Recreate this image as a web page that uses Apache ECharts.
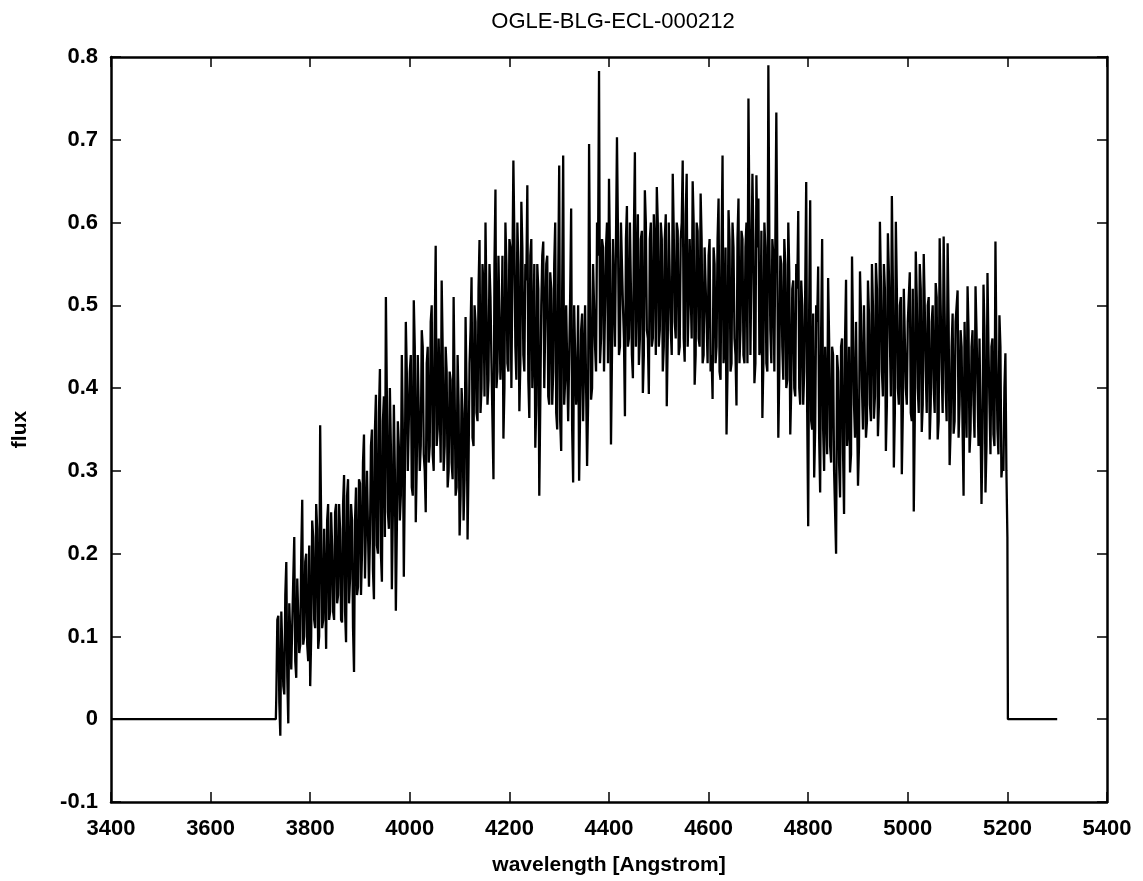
<!DOCTYPE html>
<html>
<head>
<meta charset="utf-8">
<title>OGLE-BLG-ECL-000212</title>
<script src="https://cdn.jsdelivr.net/npm/echarts@6/dist/echarts.min.js"></script>
<style>
  html, body { margin: 0; padding: 0; background: #fff; }
  #main { width: 1143px; height: 881px; }
</style>
</head>
<body>
<div id="main"></div>
<script>
// spectrum: flux at 3732, 3736, ... 5200 A,
// fluxMid at the points in between (3734, 3738, ... 5198 A)
const waveStart = 3732;
const waveStep = 4;
const flux = [
  // 3732 - 3828
  0.03, 0.125, -0.02, 0.13, 0.03, 0.19, -0.005, 0.14, 0.06, 0.22, 0.05, 0.17, 0.09,
  0.265, 0.1, 0.2, 0.07, 0.04, 0.24, 0.12, 0.26, 0.085, 0.355, 0.11, 0.23,
  // 3832 - 3928
  0.085, 0.26, 0.13, 0.21, 0.12, 0.26, 0.15, 0.23, 0.117, 0.295, 0.093, 0.29, 0.17,
  0.24, 0.057, 0.28, 0.16, 0.285, 0.2, 0.344, 0.169, 0.3, 0.22, 0.35, 0.145,
  // 3932 - 4028
  0.392, 0.2, 0.423, 0.166, 0.39, 0.51, 0.25, 0.4, 0.157, 0.38, 0.131, 0.36, 0.24,
  0.44, 0.172, 0.48, 0.3, 0.42, 0.28, 0.506, 0.238, 0.44, 0.3, 0.47, 0.32,
  // 4032 - 4128
  0.25, 0.45, 0.33, 0.5, 0.3, 0.572, 0.35, 0.46, 0.53, 0.3, 0.45, 0.28, 0.42,
  0.31, 0.51, 0.27, 0.44, 0.222, 0.4, 0.24, 0.486, 0.217, 0.43, 0.534, 0.33,
  // 4132 - 4228
  0.48, 0.36, 0.579, 0.4, 0.52, 0.6, 0.38, 0.55, 0.43, 0.29, 0.64, 0.42, 0.56,
  0.45, 0.339, 0.6, 0.43, 0.58, 0.4, 0.675, 0.45, 0.6, 0.372, 0.625, 0.44,
  // 4232 - 4328
  0.55, 0.645, 0.364, 0.58, 0.45, 0.328, 0.55, 0.27, 0.5, 0.577, 0.4, 0.56, 0.38,
  0.52, 0.42, 0.6, 0.35, 0.669, 0.324, 0.681, 0.41, 0.5, 0.36, 0.617, 0.286,
  // 4332 - 4428
  0.5, 0.4, 0.288, 0.47, 0.36, 0.5, 0.306, 0.695, 0.386, 0.55, 0.45, 0.6, 0.783,
  0.46, 0.57, 0.42, 0.6, 0.653, 0.332, 0.58, 0.45, 0.703, 0.44, 0.6, 0.5,
  // 4432 - 4528
  0.366, 0.62, 0.46, 0.6, 0.412, 0.685, 0.45, 0.428, 0.58, 0.394, 0.639, 0.47, 0.393,
  0.6, 0.46, 0.57, 0.643, 0.45, 0.6, 0.42, 0.58, 0.378, 0.6, 0.47, 0.659,
  // 4532 - 4628
  0.48, 0.6, 0.44, 0.58, 0.675, 0.432, 0.659, 0.5, 0.58, 0.65, 0.404, 0.6, 0.46,
  0.635, 0.43, 0.57, 0.48, 0.56, 0.42, 0.387, 0.55, 0.45, 0.629, 0.41, 0.681,
  // 4632 - 4728
  0.45, 0.344, 0.615, 0.42, 0.6, 0.46, 0.379, 0.629, 0.47, 0.58, 0.43, 0.6, 0.75,
  0.44, 0.659, 0.406, 0.657, 0.629, 0.45, 0.364, 0.6, 0.43, 0.79, 0.47, 0.58,
  // 4732 - 4828
  0.42, 0.733, 0.34, 0.56, 0.45, 0.58, 0.4, 0.6, 0.344, 0.52, 0.4, 0.55, 0.614,
  0.38, 0.5, 0.42, 0.649, 0.233, 0.627, 0.35, 0.292, 0.5, 0.547, 0.274, 0.58,
  // 4832 - 4928
  0.3, 0.45, 0.533, 0.33, 0.45, 0.3, 0.2, 0.42, 0.268, 0.46, 0.248, 0.531, 0.35,
  0.298, 0.559, 0.38, 0.48, 0.282, 0.541, 0.4, 0.5, 0.34, 0.53, 0.38, 0.55,
  // 4932 - 5028
  0.363, 0.551, 0.342, 0.601, 0.42, 0.55, 0.324, 0.587, 0.46, 0.632, 0.304, 0.601, 0.4,
  0.5, 0.296, 0.52, 0.4, 0.48, 0.54, 0.36, 0.251, 0.565, 0.4, 0.55, 0.347,
  // 5032 - 5128
  0.562, 0.42, 0.5, 0.338, 0.48, 0.4, 0.527, 0.338, 0.581, 0.42, 0.583, 0.4, 0.575,
  0.307, 0.45, 0.345, 0.48, 0.518, 0.38, 0.45, 0.27, 0.48, 0.523, 0.322, 0.45,
  // 5132 - 5200
  0.38, 0.523, 0.4, 0.46, 0.26, 0.525, 0.274, 0.539, 0.38, 0.45, 0.344, 0.577, 0.35,
  0.488, 0.292, 0.3, 0.442, 0.22
];
const fluxMid = [
  // 3734 - 3830
  0.12, 0.02, 0.13, 0.04, 0.15, 0.05, 0.14, 0.06, 0.17, 0.07, 0.17, 0.08, 0.2,
  0.09, 0.19, 0.09, 0.21, 0.1, 0.22, 0.11, 0.23, 0.1, 0.24, 0.12, 0.23,
  // 3834 - 3930
  0.24, 0.12, 0.25, 0.13, 0.25, 0.14, 0.26, 0.12, 0.26, 0.13, 0.27, 0.14, 0.26,
  0.11, 0.24, 0.15, 0.29, 0.15, 0.31, 0.17, 0.3, 0.16, 0.33, 0.18, 0.35,
  // 3934 - 4030
  0.21, 0.37, 0.2, 0.36, 0.22, 0.39, 0.23, 0.33, 0.25, 0.3, 0.23, 0.33, 0.27,
  0.35, 0.29, 0.42, 0.3, 0.44, 0.27, 0.45, 0.31, 0.44, 0.33, 0.45, 0.3,
  // 4034 - 4130
  0.43, 0.31, 0.48, 0.32, 0.47, 0.33, 0.46, 0.31, 0.45, 0.33, 0.42, 0.3, 0.41,
  0.29, 0.4, 0.28, 0.38, 0.27, 0.37, 0.29, 0.4, 0.31, 0.47, 0.34, 0.5,
  // 4134 - 4230
  0.37, 0.52, 0.37, 0.55, 0.39, 0.5, 0.41, 0.51, 0.43, 0.55, 0.4, 0.56, 0.41,
  0.56, 0.4, 0.55, 0.42, 0.57, 0.4, 0.58, 0.41, 0.55, 0.43, 0.57, 0.42,
  // 4234 - 4330
  0.53, 0.41, 0.56, 0.4, 0.55, 0.38, 0.52, 0.38, 0.56, 0.4, 0.55, 0.39, 0.54,
  0.38, 0.55, 0.37, 0.53, 0.36, 0.52, 0.38, 0.5, 0.36, 0.51, 0.35, 0.5,
  // 4334 - 4430
  0.38, 0.5, 0.37, 0.49, 0.36, 0.5, 0.38, 0.52, 0.4, 0.55, 0.42, 0.56, 0.43,
  0.58, 0.42, 0.57, 0.43, 0.56, 0.44, 0.58, 0.45, 0.59, 0.45, 0.6, 0.46,
  // 4434 - 4530
  0.58, 0.45, 0.6, 0.44, 0.59, 0.45, 0.61, 0.46, 0.59, 0.44, 0.6, 0.46, 0.58,
  0.45, 0.61, 0.44, 0.6, 0.47, 0.58, 0.45, 0.61, 0.46, 0.6, 0.44, 0.59,
  // 4534 - 4630
  0.46, 0.59, 0.45, 0.6, 0.46, 0.61, 0.45, 0.58, 0.46, 0.6, 0.44, 0.59, 0.45,
  0.58, 0.44, 0.57, 0.43, 0.58, 0.44, 0.57, 0.43, 0.58, 0.42, 0.57, 0.43,
  // 4634 - 4730
  0.57, 0.42, 0.58, 0.43, 0.57, 0.44, 0.58, 0.43, 0.59, 0.44, 0.57, 0.43, 0.6,
  0.44, 0.58, 0.43, 0.57, 0.44, 0.59, 0.43, 0.57, 0.42, 0.58, 0.43, 0.56,
  // 4734 - 4830
  0.42, 0.56, 0.42, 0.55, 0.41, 0.55, 0.41, 0.54, 0.4, 0.53, 0.39, 0.52, 0.4,
  0.53, 0.38, 0.52, 0.37, 0.5, 0.36, 0.49, 0.35, 0.48, 0.34, 0.47, 0.35,
  // 4834 - 4930
  0.45, 0.32, 0.46, 0.31, 0.44, 0.3, 0.44, 0.31, 0.45, 0.32, 0.46, 0.33, 0.45,
  0.32, 0.47, 0.34, 0.48, 0.33, 0.49, 0.35, 0.5, 0.36, 0.49, 0.36, 0.5,
  // 4934 - 5030
  0.39, 0.52, 0.38, 0.53, 0.39, 0.52, 0.38, 0.54, 0.39, 0.53, 0.37, 0.52, 0.38,
  0.51, 0.37, 0.52, 0.38, 0.51, 0.37, 0.52, 0.36, 0.51, 0.37, 0.52, 0.38,
  // 5034 - 5130
  0.5, 0.37, 0.51, 0.38, 0.5, 0.37, 0.51, 0.36, 0.5, 0.37, 0.49, 0.36, 0.48,
  0.35, 0.49, 0.36, 0.48, 0.34, 0.47, 0.35, 0.48, 0.34, 0.47, 0.35, 0.47,
  // 5134 - 5198
  0.34, 0.47, 0.33, 0.46, 0.34, 0.47, 0.33, 0.45, 0.32, 0.46, 0.33, 0.44, 0.32,
  0.45, 0.31, 0.4, 0.3
];
// zero-padded ends of the spectrum
const headWave = [3400, 3731];
const headFlux = [0, 0];
const tailWave = [5201, 5300];
const tailFlux = [0, 0];

const xTicks = [3400, 3600, 3800, 4000, 4200, 4400, 4600, 4800, 5000, 5200, 5400];
const yTicks = [-0.1, 0, 0.1, 0.2, 0.3, 0.4, 0.5, 0.6, 0.7, 0.8];

const points = [];
headWave.forEach((w, i) => points.push([w, headFlux[i]]));
flux.forEach((f, i) => {
  points.push([waveStart + i * waveStep, f]);
  if (i < fluxMid.length) points.push([waveStart + i * waveStep + waveStep / 2, fluxMid[i]]);
});
tailWave.forEach((w, i) => points.push([w, tailFlux[i]]));

const chart = echarts.init(document.getElementById("main"), null, { renderer: "canvas" });

const fontFamily = "'Liberation Sans', Arial, sans-serif";
const frame = { show: true, onZero: false, lineStyle: { color: "#000", width: 2.5 } };
const ticks = { show: true, inside: true, length: 10, lineStyle: { color: "#000", width: 1.5 } };

const xBase = {
  type: "value",
  min: xTicks[0],
  max: xTicks[xTicks.length - 1],
  interval: 200,
  axisLine: frame,
  axisTick: ticks,
  splitLine: { show: false }
};
const yBase = {
  type: "value",
  min: yTicks[0],
  max: yTicks[yTicks.length - 1],
  interval: 0.1,
  axisLine: frame,
  axisTick: ticks,
  splitLine: { show: false }
};

const option = {
  backgroundColor: "#fff",
  animation: false,
  title: {
    text: "OGLE-BLG-ECL-000212",
    left: 608,
    top: 6,
    textAlign: "center",
    textStyle: { fontFamily, fontSize: 22, fontWeight: "normal", color: "#000" }
  },
  grid: { left: 111, right: 36, top: 57, bottom: 77 },
  xAxis: [
    Object.assign({}, xBase, {
      position: "bottom",
      name: "wavelength [Angstrom]",
      nameLocation: "middle",
      nameGap: 53,
      nameTextStyle: { fontFamily, fontSize: 21, fontWeight: "bold", color: "#000" },
      axisLabel: {
        margin: 16,
        fontFamily,
        fontSize: 22,
        fontWeight: "bold",
        color: "#000",
        formatter: v => String(v)
      }
    }),
    Object.assign({}, xBase, { position: "top", axisLabel: { show: false } })
  ],
  yAxis: [
    Object.assign({}, yBase, {
      position: "left",
      name: "flux",
      nameLocation: "middle",
      nameGap: 80,
      nameTextStyle: { fontFamily, fontSize: 21, fontWeight: "bold", color: "#000" },
      axisLabel: {
        margin: 13,
        fontFamily,
        fontSize: 22,
        fontWeight: "bold",
        color: "#000",
        formatter: v => String(+v.toFixed(1))
      }
    }),
    Object.assign({}, yBase, { position: "right", axisLabel: { show: false } })
  ],
  series: [
    {
      type: "line",
      xAxisIndex: 0,
      yAxisIndex: 0,
      data: points,
      showSymbol: false,
      symbol: "none",
      sampling: null,
      lineStyle: { color: "#000", width: 2.3 },
      silent: true
    }
  ]
};

chart.setOption(option);
</script>
</body>
</html>
